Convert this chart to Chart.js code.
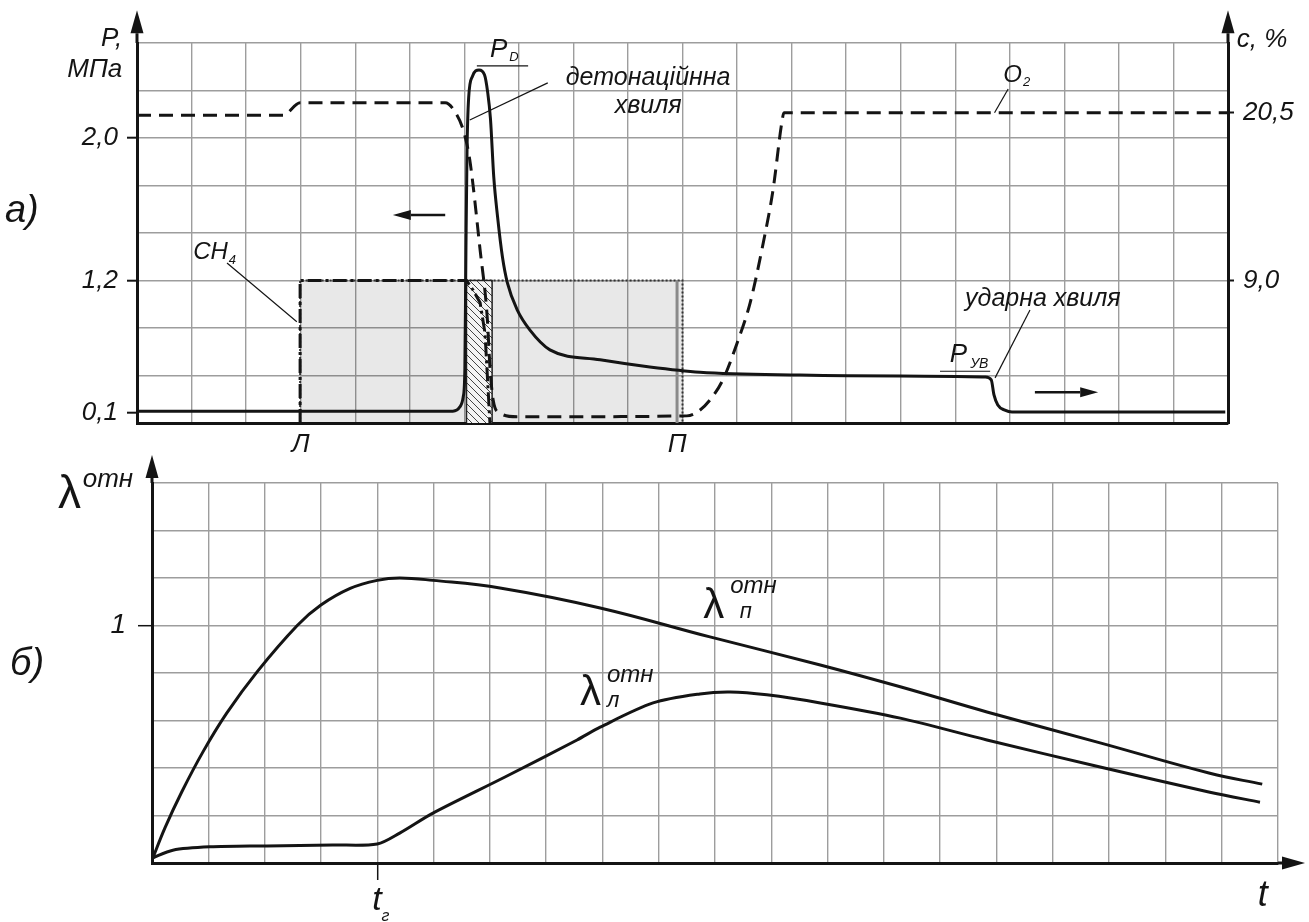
<!DOCTYPE html>
<html>
<head>
<meta charset="utf-8">
<script src="https://cdn.jsdelivr.net/npm/chart.js@4.4.1/dist/chart.umd.min.js"></script>
<style>
  html, body { margin: 0; padding: 0; background: #fff; }
  #wrap { position: relative; width: 1309px; height: 922px; overflow: hidden; }
  canvas { position: absolute; left: 0; }
  #chartA { top: 0; }
  #chartB { top: 440px; }
</style>
</head>
<body>
<div id="wrap">
  <canvas id="chartA" width="1309" height="460"></canvas>
  <canvas id="chartB" width="1309" height="482"></canvas>
</div>
<script>
// all values are in grid units: x = column of the 20-column grid, y = row of the 8-row grid
// (the original axes are schematic, so only the labelled rows carry real numbers)

// ---- chart a) ----
const pressureX = [0, 5.79, 5.92, 5.98, 6.01, 6.03, 6.05, 6.08, 6.15, 6.27, 6.37, 6.43, 6.48, 6.54, 6.61, 6.70, 6.79, 6.97, 7.20, 7.57, 8.49, 9.40, 10.32, 12.15, 13.99, 15.55, 15.66, 15.71, 15.78, 15.91, 16.04, 19.95];
const pressureY = [0.25, 0.25, 0.34, 0.55, 1.12, 3.64, 5.75, 6.85, 7.30, 7.43, 7.33, 6.95, 6.40, 5.18, 4.34, 3.49, 2.95, 2.38, 1.96, 1.54, 1.33, 1.18, 1.07, 1.01, 0.99, 0.97, 0.91, 0.59, 0.38, 0.27, 0.23, 0.23];

const oxygenX = [0, 2.68, 2.99, 5.65, 5.83, 5.98, 6.10, 6.29, 6.42, 6.47, 6.53, 6.65, 6.97, 10.08, 10.27, 10.50, 10.74, 11.00, 11.24, 11.48, 11.66, 11.82, 11.86, 20];
const oxygenY = [6.48, 6.48, 6.74, 6.74, 6.55, 6.17, 5.54, 3.64, 2.23, 1.18, 0.48, 0.21, 0.13, 0.15, 0.23, 0.48, 0.91, 1.68, 2.53, 3.79, 4.91, 6.32, 6.53, 6.53];

const methaneX = [2.99, 2.99, 6.04, 6.16, 6.29, 6.38, 6.43, 6.47];
const methaneY = [0, 3, 3, 2.8, 2.53, 1.89, 0.84, 0];

const zoneX = [2.99, 2.99, 10, 10];   // grey mixture zone Л..П
const zoneY = [0, 3, 3, 0];
const frontX = [6.04, 6.04, 6.51, 6.51]; // hatched reaction front
const frontY = [0, 3, 3, 0];
const edgeX = [9.9, 9.9];              // solid grey edge of the zone
const edgeY = [0, 3];

const leftTickPos = [0.21, 3, 6];
const leftTickText = ['0,1', '1,2', '2,0'];
const rightTickPos = [3, 6.53];
const rightTickText = ['9,0', '20,5'];
const bottomTickPos = [3, 9.9];
const bottomTickText = ['Л', 'П'];

// ---- chart б) ----
const lamPX = [0, 0.23, 0.53, 0.91, 1.33, 1.87, 2.58, 3.0, 3.52, 4.0, 4.40, 4.99, 6.18, 7.96, 9.91, 11.87, 13.29, 14.83, 16.84, 18.79, 19.72];
const lamPY = [0.06, 0.74, 1.50, 2.35, 3.16, 4.03, 5.0, 5.43, 5.78, 5.95, 6.0, 5.95, 5.79, 5.37, 4.76, 4.17, 3.71, 3.18, 2.53, 1.89, 1.66];
const lamLX = [0, 0.37, 1.03, 2.04, 3.21, 4.0, 4.40, 4.99, 6.27, 7.55, 7.96, 8.90, 9.73, 10.27, 10.92, 11.87, 13.29, 14.83, 16.84, 18.79, 19.68];
const lamLY = [0.1, 0.27, 0.34, 0.36, 0.38, 0.40, 0.63, 1.05, 1.81, 2.59, 2.86, 3.37, 3.56, 3.60, 3.54, 3.37, 3.05, 2.59, 2.02, 1.49, 1.28];
const bTickPosY = [5];
const bTickTextY = ['1'];
const bTickPosX = [4];

const FONT = '"Liberation Sans", Arial, sans-serif';
const INK = '#141414';
const GRID = '#9d9d9d';
const NONE = 'rgba(0,0,0,0)';

function pts(xs, ys) {
  return xs.map((x, i) => ({ x: x, y: ys[i] }));
}
function range(n) {
  const out = [];
  for (let i = 0; i <= n; i++) out.push(i);
  return out;
}
function fixedTicks(list) {
  return scale => { scale.ticks = list.map(v => ({ value: v })); };
}
function labelFor(pos, text) {
  return v => { const i = pos.indexOf(v); return i < 0 ? '' : text[i]; };
}

function hatch() {
  const c = document.createElement('canvas');
  c.width = 7; c.height = 7;
  const g = c.getContext('2d');
  g.fillStyle = '#f4f4f4';
  g.fillRect(0, 0, 7, 7);
  g.strokeStyle = '#444';
  g.lineWidth = 1;
  g.beginPath();
  g.moveTo(-1, -1); g.lineTo(8, 8);
  g.moveTo(-1, 6); g.lineTo(1, 8);
  g.moveTo(6, -1); g.lineTo(8, 1);
  g.stroke();
  return g.createPattern(c, 'repeat');
}

// ---- annotations (text, leader lines, arrows) ----
const notesA = [
  { text: 'P,', x: -0.27, y: 7.94, size: 26, align: 'right' },
  { text: 'МПа', x: -0.27, y: 7.28, size: 26, align: 'right' },
  { text: 'а)', x: -2.42, y: 4.23, size: 38 },
  { text: 'с, %', x: 20.16, y: 7.92, size: 26 },
  { text: 'СН', x: 1.03, y: 3.45, size: 24, sub: '4', subSize: 13, subDx: 1, subDy: 5 },
  { text: 'P', x: 6.47, y: 7.71, size: 26, sub: 'D', subSize: 13, subDx: 2, subDy: 4 },
  { text: 'детонаційнна', x: 9.37, y: 7.12, size: 25, align: 'center' },
  { text: 'хвиля', x: 9.37, y: 6.53, size: 25, align: 'center' },
  { text: 'O', x: 15.88, y: 7.18, size: 24, sub: '2', subSize: 13, subDx: 1, subDy: 4 },
  { text: 'ударна хвиля', x: 15.18, y: 2.46, size: 25 },
  { text: 'P', x: 14.9, y: 1.28, size: 26, sub: 'УВ', subSize: 14, subDx: 3, subDy: 6 }
];
const leadersA = [[1.65, 3.37, 2.93, 2.13], [6.10, 6.38, 7.53, 7.16], [15.97, 7.03, 15.72, 6.53], [16.37, 2.38, 15.73, 0.95]];
const barsA = [[6.23, 7.52, 7.17, 7.52], [14.72, 1.09, 15.64, 1.09]];
const arrowsA = [[5.65, 4.38, 4.69, 4.38], [16.46, 0.65, 17.62, 0.65]];
const axisArrowsA = [[0, 8, 0, 8.69], [20, 8, 20, 8.69]];

const notesB = [
  { text: 'λ', x: -1.67, y: 7.47, size: 46, upright: true },
  { text: 'отн', x: -1.23, y: 7.92, size: 26 },
  { text: 'б)', x: -2.52, y: 3.96, size: 38 },
  { text: 't', x: 3.91, y: -0.99, size: 34, sub: 'г', subSize: 16, subDx: 0, subDy: 11 },
  { text: 't', x: 19.64, y: -0.91, size: 36 },
  { text: 'λ', x: 9.79, y: 5.16, size: 42, upright: true },
  { text: 'отн', x: 10.27, y: 5.68, size: 24 },
  { text: 'п', x: 10.44, y: 5.16, size: 22 },
  { text: 'λ', x: 7.60, y: 3.33, size: 42, upright: true },
  { text: 'отн', x: 8.08, y: 3.81, size: 24 },
  { text: 'л', x: 8.08, y: 3.28, size: 22 }
];
const axisArrowsB = [[0, 8, 0, 8.59], [20, 0, 20.48, 0]];

function drawNote(ctx, n, X, Y) {
  ctx.fillStyle = INK;
  ctx.textBaseline = 'alphabetic';
  ctx.textAlign = n.align || 'left';
  ctx.font = (n.upright ? '' : 'italic ') + n.size + 'px ' + FONT;
  ctx.fillText(n.text, X(n.x), Y(n.y));
  if (n.sub) {
    const w = ctx.measureText(n.text).width;
    ctx.font = 'italic ' + n.subSize + 'px ' + FONT;
    ctx.textAlign = 'left';
    ctx.fillText(n.sub, X(n.x) + w + n.subDx, Y(n.y) + n.subDy);
  }
}
function drawArrow(ctx, x1, y1, x2, y2, width, len, half) {
  const a = Math.atan2(y2 - y1, x2 - x1);
  const bx = x2 - Math.cos(a) * len, by = y2 - Math.sin(a) * len;
  ctx.strokeStyle = INK;
  ctx.lineWidth = width;
  ctx.beginPath(); ctx.moveTo(x1, y1); ctx.lineTo(bx, by); ctx.stroke();
  ctx.fillStyle = INK;
  ctx.beginPath();
  ctx.moveTo(x2, y2);
  ctx.lineTo(bx + Math.sin(a) * half, by - Math.cos(a) * half);
  ctx.lineTo(bx - Math.sin(a) * half, by + Math.cos(a) * half);
  ctx.closePath(); ctx.fill();
}
function drawLines(ctx, list, X, Y, width) {
  ctx.strokeStyle = INK;
  ctx.lineWidth = width;
  list.forEach(l => {
    ctx.beginPath(); ctx.moveTo(X(l[0]), Y(l[1])); ctx.lineTo(X(l[2]), Y(l[3])); ctx.stroke();
  });
}

function decor(draw) {
  return {
    id: 'decor',
    afterDraw(chart) {
      const sx = chart.scales.x, sy = chart.scales.y;
      const X = v => sx.getPixelForValue(v), Y = v => sy.getPixelForValue(v);
      chart.ctx.save();
      draw(chart.ctx, X, Y);
      chart.ctx.restore();
    }
  };
}

const tickFont = { family: FONT, size: 26, style: 'italic' };

// ---- chart a) ----
new Chart(document.getElementById('chartA'), {
  type: 'scatter',
  data: {
    datasets: [
      { data: pts(pressureX, pressureY), showLine: true, borderColor: INK, borderWidth: 3, cubicInterpolationMode: 'monotone', fill: false, order: 1 },
      { data: pts(oxygenX, oxygenY), showLine: true, borderColor: INK, borderWidth: 3, borderDash: [14, 8], cubicInterpolationMode: 'monotone', fill: false, order: 2 },
      { data: pts(methaneX, methaneY), showLine: true, borderColor: INK, borderWidth: 3, borderDash: [14, 4, 3, 4], tension: 0, fill: false, order: 3 },
      { data: pts(frontX, frontY), showLine: true, borderColor: '#222', borderWidth: 1.5, tension: 0, fill: 'origin', backgroundColor: hatch(), order: 4 },
      { data: pts(edgeX, edgeY), showLine: true, borderColor: '#8a8a8a', borderWidth: 3, tension: 0, fill: false, order: 5 },
      { data: pts(zoneX, zoneY), showLine: true, borderColor: '#333', borderWidth: 2, borderDash: [2, 2], tension: 0, fill: 'origin', backgroundColor: 'rgba(0,0,0,0.09)', order: 6 }
    ]
  },
  options: {
    responsive: false,
    animation: false,
    events: [],
    layout: { padding: { top: 43, left: 0, right: 0, bottom: 0 }, autoPadding: false },
    elements: { point: { radius: 0 } },
    plugins: { legend: { display: false }, tooltip: { enabled: false } },
    scales: {
      x: {
        type: 'linear', min: 0, max: 20,
        afterBuildTicks: fixedTicks(range(20).concat([9.9]).sort((a, b) => a - b)),
        afterFit: s => { s.height = 37; },
        grid: {
          color: c => c.tick && c.tick.value === 9.9 ? NONE : GRID,
          lineWidth: 1.4,
          drawTicks: false
        },
        border: { color: INK, width: 3 },
        ticks: { autoSkip: false, maxRotation: 0, padding: 6, color: INK, font: tickFont, callback: labelFor(bottomTickPos, bottomTickText) }
      },
      y: {
        type: 'linear', position: 'left', min: 0, max: 8,
        afterBuildTicks: fixedTicks([0, 0.21].concat(range(8).slice(1))),
        afterFit: s => { s.width = 137; },
        grid: {
          color: c => c.tick && c.tick.value === 0.21 ? NONE : GRID,
          lineWidth: 1.4,
          tickLength: 10,
          tickWidth: 2,
          tickColor: c => c.tick && leftTickPos.indexOf(c.tick.value) >= 0 ? INK : NONE
        },
        border: { color: INK, width: 3 },
        ticks: { autoSkip: false, padding: 9, color: INK, font: tickFont, callback: labelFor(leftTickPos, leftTickText) }
      },
      y2: {
        type: 'linear', position: 'right', min: 0, max: 8,
        afterBuildTicks: fixedTicks(rightTickPos),
        afterFit: s => { s.width = 81; },
        grid: { drawOnChartArea: false, tickLength: 6, tickWidth: 2, tickColor: INK },
        border: { color: INK, width: 3 },
        ticks: { autoSkip: false, padding: 9, color: INK, font: tickFont, callback: labelFor(rightTickPos, rightTickText) }
      }
    }
  },
  plugins: [decor((ctx, X, Y) => {
    axisArrowsA.forEach(a => drawArrow(ctx, X(a[0]), Y(a[1]), X(a[2]), Y(a[3]), 3, 23, 6.5));
    arrowsA.forEach(a => drawArrow(ctx, X(a[0]), Y(a[1]), X(a[2]), Y(a[3]), 2.5, 18, 5));
    drawLines(ctx, leadersA, X, Y, 1.2);
    drawLines(ctx, barsA, X, Y, 1.2);
    notesA.forEach(n => drawNote(ctx, n, X, Y));
  })]
});

// ---- chart б) ----
new Chart(document.getElementById('chartB'), {
  type: 'scatter',
  data: {
    datasets: [
      { data: pts(lamPX, lamPY), showLine: true, borderColor: INK, borderWidth: 3, tension: 0.4, fill: false },
      { data: pts(lamLX, lamLY), showLine: true, borderColor: INK, borderWidth: 3, tension: 0.3, fill: false }
    ]
  },
  options: {
    responsive: false,
    animation: false,
    events: [],
    layout: { padding: { top: 43, left: 0, right: 31, bottom: 0 }, autoPadding: false },
    elements: { point: { radius: 0 } },
    plugins: { legend: { display: false }, tooltip: { enabled: false } },
    scales: {
      x: {
        type: 'linear', min: 0, max: 20,
        afterBuildTicks: fixedTicks(range(20)),
        afterFit: s => { s.height = 59; },
        grid: {
          color: GRID, lineWidth: 1.4,
          tickLength: 17, tickWidth: 1.5,
          tickColor: c => c.tick && bTickPosX.indexOf(c.tick.value) >= 0 ? INK : NONE
        },
        border: { color: INK, width: 3 },
        ticks: { autoSkip: false, maxRotation: 0, color: INK, font: tickFont, callback: () => '' }
      },
      y: {
        type: 'linear', min: 0, max: 8,
        afterBuildTicks: fixedTicks(range(8)),
        afterFit: s => { s.width = 152; },
        grid: {
          color: GRID, lineWidth: 1.4,
          tickLength: 14, tickWidth: 1.5,
          tickColor: c => c.tick && bTickPosY.indexOf(c.tick.value) >= 0 ? INK : NONE
        },
        border: { color: INK, width: 3 },
        ticks: { autoSkip: false, padding: 12, color: INK, font: { family: FONT, size: 28, style: 'italic' }, callback: labelFor(bTickPosY, bTickTextY) }
      }
    }
  },
  plugins: [decor((ctx, X, Y) => {
    axisArrowsB.forEach(a => drawArrow(ctx, X(a[0]), Y(a[1]), X(a[2]), Y(a[3]), 3, 23, 6.5));
    notesB.forEach(n => drawNote(ctx, n, X, Y));
  })]
});
</script>
</body>
</html>
